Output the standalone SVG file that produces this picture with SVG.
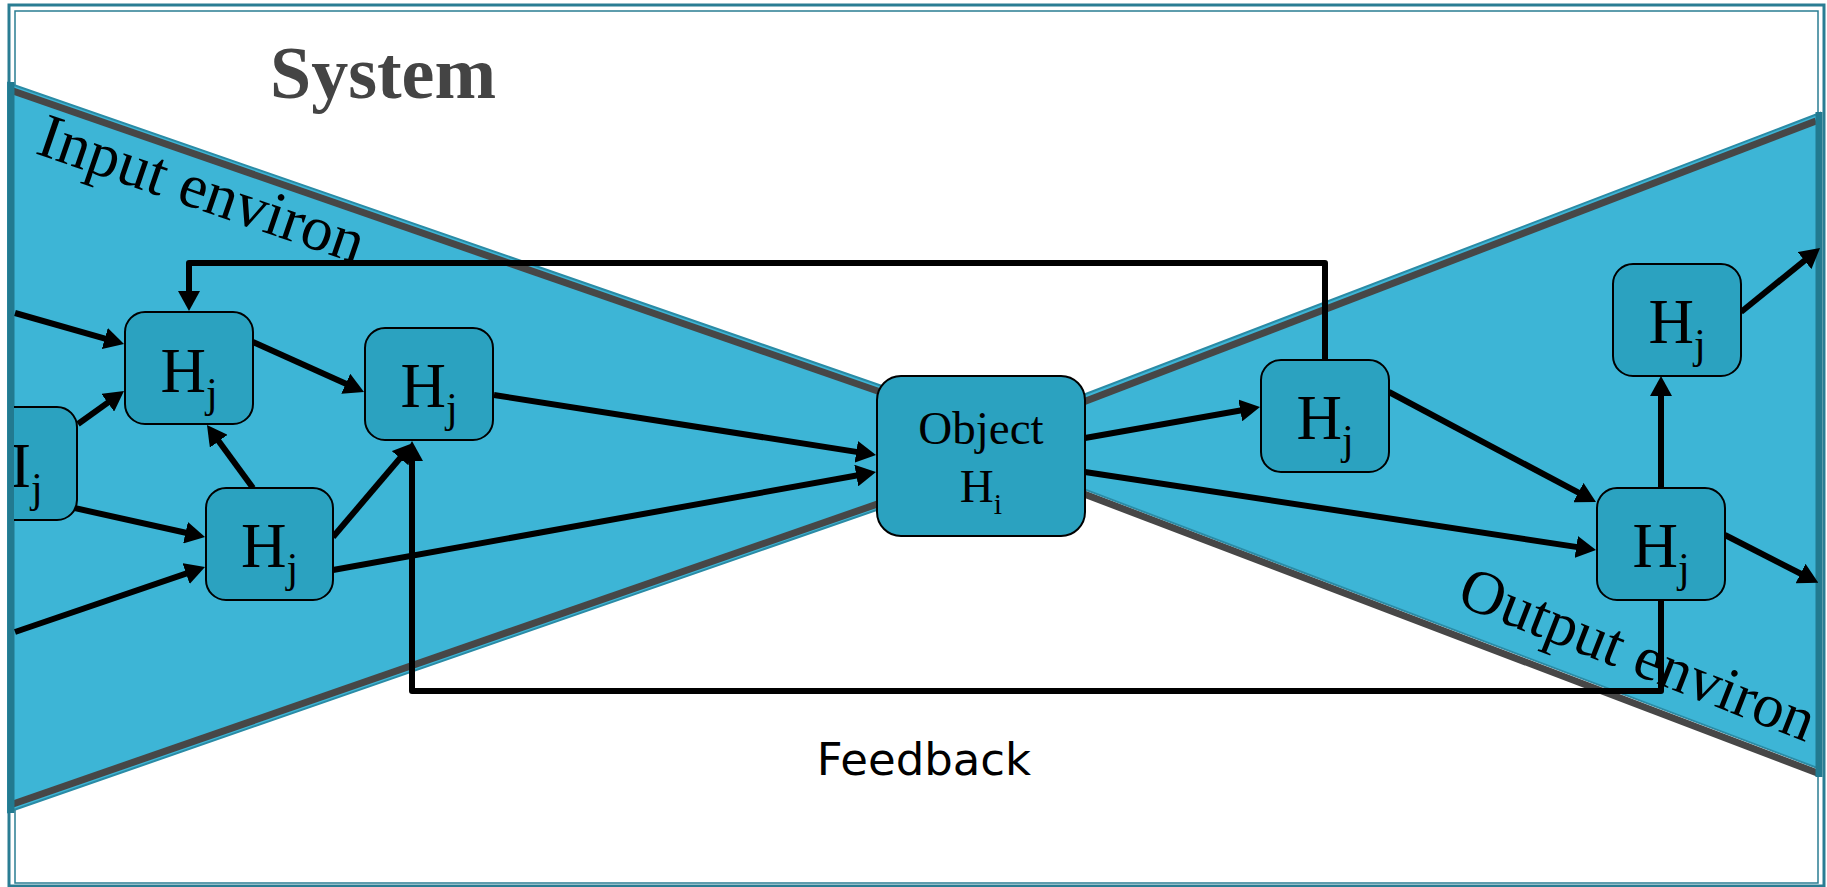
<svg xmlns="http://www.w3.org/2000/svg" width="1827" height="887" viewBox="0 0 1827 887">
  <style>
    .frame-outer { fill: none; stroke: #2a7d93; stroke-width: 3; }
    .frame-inner { fill: none; stroke: #2a7d93; stroke-width: 1.5; }
    .env { fill: #3db5d6; stroke: #2b8ba5; stroke-width: 2; stroke-linejoin: miter; }
    .env-side { stroke: #227a90; stroke-width: 7; }
    .env-shade { stroke: #474747; stroke-width: 7; stroke-linecap: butt; }
    .node rect { fill: #2ba2c0; stroke: #000; stroke-width: 2; }
    .serif { font-family: "Liberation Serif", "Times New Roman", serif; fill: #000; }
    .label { font-size: 63px; text-anchor: middle; }
    .sub { font-size: 42px; }
    .conn { fill: none; stroke: #000; stroke-width: 6; stroke-linejoin: round; }
    .title { font-family: "Liberation Serif", "Times New Roman", serif; font-weight: bold; font-size: 74px; fill: #444; }
    .caption { font-family: "DejaVu Sans", "Verdana", sans-serif; font-size: 45px; fill: #000; text-anchor: middle; }
  </style>
  <defs>
    <marker id="arrow" viewBox="0 0 20 22" refX="13" refY="11" markerWidth="20" markerHeight="22" markerUnits="userSpaceOnUse" orient="auto">
      <path d="M0,0 L20,11 L0,22 z" fill="#000"/>
    </marker>
    <clipPath id="clip-left">
      <rect x="14" y="0" width="300" height="887"/>
    </clipPath>
  </defs>

  <!-- page background and double frame -->
  <rect x="0" y="0" width="1827" height="887" fill="#fff"/>
  <rect class="frame-outer" x="9" y="5" width="1815" height="881"/>
  <rect class="frame-inner" x="15" y="11" width="1803" height="872"/>

  <!-- input environment wedge -->
  <g id="input-environ">
    <polygon class="env" points="8,83 1058,447 8,812"/>
    <line class="env-shade" x1="13" y1="91" x2="1000" y2="433.5"/>
    <line class="env-shade" x1="13" y1="804" x2="1000" y2="461.5"/>
    <line class="env-side" x1="11" y1="82" x2="11" y2="813"/>
  </g>

  <!-- output environment wedge -->
  <g id="output-environ">
    <line class="env-shade" x1="1000" y1="462" x2="1820" y2="774"/>
    <polygon class="env" points="1820,113 960,442 1820,769"/>
    <line class="env-shade" x1="1000" y1="434" x2="1816" y2="121"/>
    <line class="env-side" x1="1819" y1="112" x2="1819" y2="777"/>
  </g>

  <text class="title" x="270" y="98">System</text>

  <!-- connectors -->
  <g id="connectors">
    <path class="conn" marker-end="url(#arrow)" d="M15,313 L117.3,342.1"/>
    <path class="conn" marker-end="url(#arrow)" d="M78,424 L118.3,395.1"/>
    <path class="conn" marker-end="url(#arrow)" d="M61,505 L198.2,535.5"/>
    <path class="conn" marker-end="url(#arrow)" d="M15,632 L198.4,569.3"/>
    <path class="conn" marker-end="url(#arrow)" d="M253,488 L211.1,430.7"/>
    <path class="conn" marker-end="url(#arrow)" d="M253,342 L357.6,389.1"/>
    <path class="conn" marker-end="url(#arrow)" d="M333,537 L408.5,448.3"/>
    <path class="conn" marker-end="url(#arrow)" d="M494,395 L869.1,453.9"/>
    <path class="conn" marker-end="url(#arrow)" d="M333,570 L869.1,473.2"/>
    <path class="conn" marker-end="url(#arrow)" d="M1085,438 L1253.1,408.2"/>
    <path class="conn" marker-end="url(#arrow)" d="M1085,472 L1589.1,548.9"/>
    <path class="conn" marker-end="url(#arrow)" d="M1389,392 L1589.8,498.7"/>
    <path class="conn" marker-end="url(#arrow)" d="M1661,488 L1661,383"/>
    <path class="conn" marker-end="url(#arrow)" d="M1741,312 L1814.6,252.4"/>
    <path class="conn" marker-end="url(#arrow)" d="M1725,535 L1812.1,579.5"/>
    <!-- feedback loops -->
    <path class="conn" marker-end="url(#arrow)" d="M1661,600 L1661,691 L412,691 L412,448"/>
    <path class="conn" marker-end="url(#arrow)" d="M1325,360 L1325,263 L189,263 L189,304"/>
  </g>

  <!-- nodes -->
  <g id="node-ij" class="node" clip-path="url(#clip-left)">
    <rect x="-50" y="407" width="127" height="113" rx="20"/>
    <text class="serif" x="10" y="487" font-size="63">I<tspan class="sub" dy="15">j</tspan></text>
  </g>
  <g id="node-a" class="node">
    <rect x="125" y="312" width="128" height="112" rx="20"/>
    <text class="serif label" x="189" y="391.5">H<tspan class="sub" dy="15">j</tspan></text>
  </g>
  <g id="node-b" class="node">
    <rect x="365" y="328" width="128" height="112" rx="20"/>
    <text class="serif label" x="429" y="407">H<tspan class="sub" dy="15">j</tspan></text>
  </g>
  <g id="node-c" class="node">
    <rect x="206" y="488" width="127" height="112" rx="20"/>
    <text class="serif label" x="269.5" y="567">H<tspan class="sub" dy="15">j</tspan></text>
  </g>
  <g id="node-object" class="node">
    <rect x="877" y="376" width="208" height="160" rx="24"/>
    <text class="serif" x="981" y="444" font-size="47" text-anchor="middle">Object</text>
    <text class="serif" x="981" y="502" font-size="47" text-anchor="middle">H<tspan font-size="30" dy="12">i</tspan></text>
  </g>
  <g id="node-e" class="node">
    <rect x="1261" y="360" width="128" height="112" rx="20"/>
    <text class="serif label" x="1325" y="439">H<tspan class="sub" dy="15">j</tspan></text>
  </g>
  <g id="node-f" class="node">
    <rect x="1613" y="264" width="128" height="112" rx="20"/>
    <text class="serif label" x="1677" y="343">H<tspan class="sub" dy="15">j</tspan></text>
  </g>
  <g id="node-g" class="node">
    <rect x="1597" y="488" width="128" height="112" rx="20"/>
    <text class="serif label" x="1661" y="567">H<tspan class="sub" dy="15">j</tspan></text>
  </g>

  <!-- region labels -->
  <text class="serif" font-size="63" transform="translate(34,153) rotate(19)">Input environ</text>
  <text class="serif" font-size="62" transform="translate(1455,604) rotate(21.5)">Output environ</text>
  <text class="caption" x="924" y="775">Feedback</text>
</svg>
